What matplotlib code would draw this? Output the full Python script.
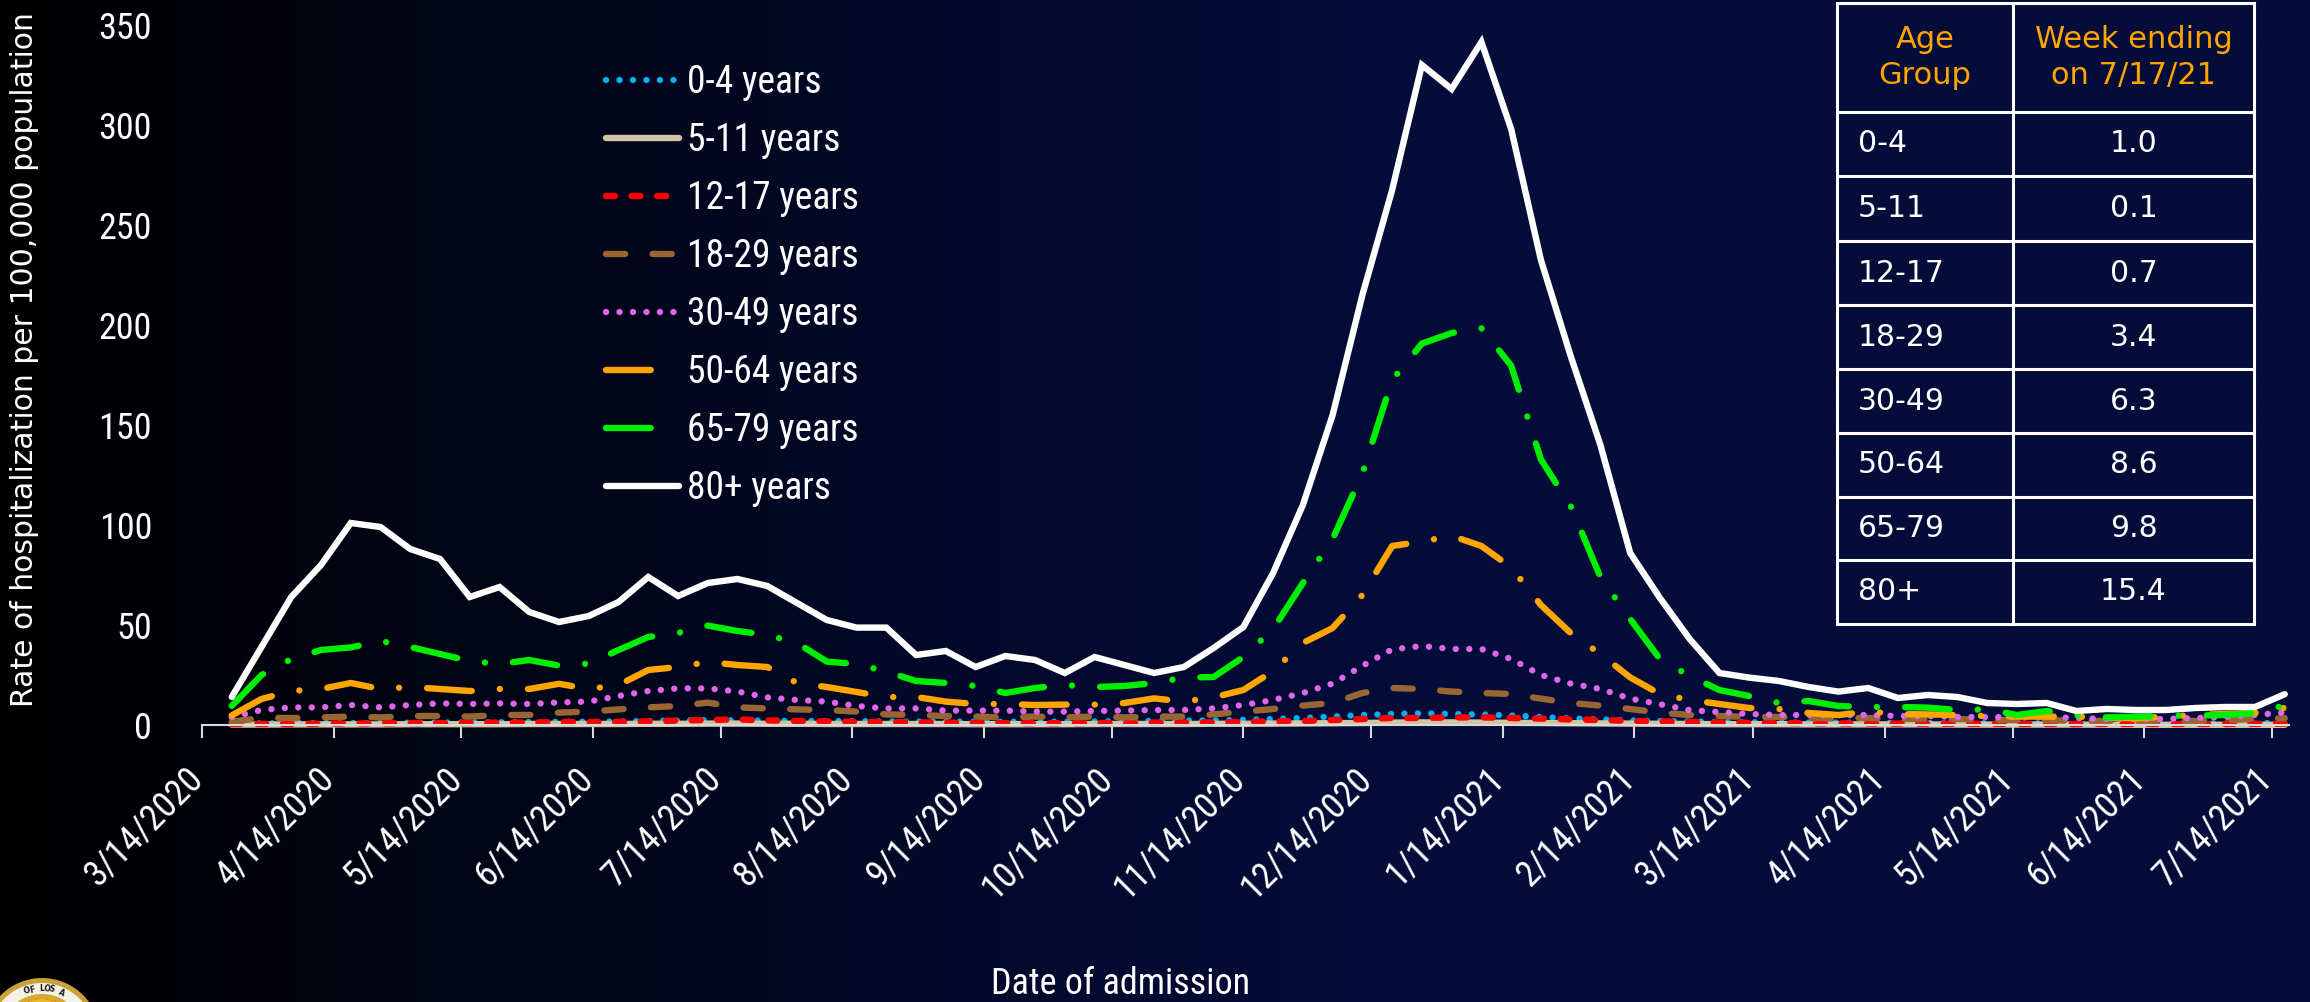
import numpy as np
import pandas as pd
import matplotlib
matplotlib.use("Agg")
import matplotlib.pyplot as plt
from matplotlib import font_manager as fm
import matplotlib.transforms as mtrans
from matplotlib.patches import Rectangle, Circle, Wedge
from matplotlib.lines import Line2D

# ---------------- data ----------------
week_ending = pd.date_range("2020-03-21", "2021-07-17", freq="7D")  # 70 weekly points

age_0_4 = [0.8, 0.8, 0.9, 1, 1, 1, 1.1, 1.2, 1.3, 1.4,
           1.5, 1.6, 1.6, 1.8, 2, 2.2, 2.5, 2.3, 2.2, 2,
           2, 1.9, 1.8, 1.7, 1.7, 1.6, 1.6, 1.6, 1.7, 1.8,
           1.9, 2, 2.2, 2.3, 2.6, 3, 3.5, 4.2, 5, 5.5,
           5.8, 5.5, 5.2, 4.8, 4, 3.3, 2.8, 2.3, 2, 1.8,
           1.5, 1.4, 1.3, 1.2, 1.2, 1.1, 1, 1, 0.9, 0.9,
           0.9, 0.8, 0.8, 0.8, 0.8, 0.8, 0.8, 0.8, 0.9, 1.0]
age_5_11 = [0.2, 0.2, 0.3, 0.3, 0.3, 0.3, 0.4, 0.4, 0.4, 0.4,
            0.5, 0.5, 0.5, 0.5, 0.6, 0.6, 0.7, 0.7, 0.6, 0.6,
            0.5, 0.5, 0.5, 0.5, 0.5, 0.4, 0.4, 0.4, 0.4, 0.5,
            0.5, 0.5, 0.5, 0.6, 0.6, 0.7, 0.8, 0.9, 1, 1.2,
            1.3, 1.3, 1.2, 1.1, 1, 0.9, 0.8, 0.7, 0.6, 0.5,
            0.4, 0.4, 0.4, 0.3, 0.3, 0.3, 0.3, 0.3, 0.2, 0.2,
            0.2, 0.2, 0.2, 0.1, 0.1, 0.1, 0.1, 0.1, 0.1, 0.1]
age_12_17 = [0.5, 0.5, 0.5, 0.7, 0.8, 0.8, 1, 1, 1, 1.2,
             1.3, 1.5, 1.5, 1.6, 1.8, 2.2, 2.5, 2.8, 2.3, 2,
             1.8, 1.6, 1.5, 1.3, 1.2, 1, 1, 0.9, 0.9, 1,
             1, 1.2, 1.2, 1.3, 1.5, 1.8, 2, 2.5, 3, 3.5,
             3.5, 3.8, 3.8, 3.5, 3.2, 2.8, 2.5, 2, 1.8, 1.5,
             1.2, 1.1, 1, 0.9, 0.8, 0.8, 0.7, 0.7, 0.6, 0.6,
             0.5, 0.5, 0.5, 0.5, 0.5, 0.5, 0.5, 0.5, 0.6, 0.7]
age_18_29 = [1.7, 3.5, 3.5, 3.8, 4.2, 3.8, 4.5, 4.5, 4.2, 5,
             5, 6.2, 6.7, 7.8, 8.8, 9.5, 11.2, 8.8, 8.3, 7.8,
             7.5, 6.7, 5.3, 5, 4.5, 4.2, 3.8, 4.2, 3.8, 4.2,
             3.8, 4.2, 4.2, 5.3, 6.7, 8, 9.7, 11, 16, 18.5,
             18, 16.7, 16, 15.5, 13.2, 11, 9.7, 8, 6.2, 5,
             4.5, 4, 4, 3.5, 3.5, 3.5, 3, 3, 3, 2.5,
             2.5, 2.5, 2, 2, 2, 2, 2, 2.5, 3, 3.4]
age_30_49 = [4, 7.5, 8.8, 8.8, 10, 8.8, 10, 10.8, 10.5, 10.8,
             10.5, 11.3, 11.7, 14.5, 17, 18.3, 18.3, 16.7, 13.8, 12.5,
             11.7, 9.5, 8.3, 8.3, 7.2, 7.2, 7.2, 6.7, 6.7, 7,
             7.2, 7.5, 7.5, 8.3, 10, 12.5, 16, 20.7, 29.6, 37.8,
             39.5, 38, 38, 33, 25, 20.7, 18, 13.2, 10.4, 7.4,
             6.5, 5.5, 5, 5, 5, 5, 4.5, 4.5, 4, 4,
             4, 4, 3.5, 3, 3, 3, 3.5, 4, 5, 6.3]
age_50_64 = [4.8, 13, 17, 18, 21, 18, 19, 18, 17, 18,
             18, 20.6, 18, 20, 27.5, 29, 31.5, 30, 29, 21,
             19, 16.5, 14, 14, 11.7, 10.5, 10.5, 10, 10.2, 10.2,
             11, 13.3, 11.7, 13.8, 17.5, 27, 41, 48.5, 65, 89.5,
             91.7, 94.6, 89.5, 78.8, 60, 46, 35.5, 23.8, 15.5, 12.5,
             10.5, 8.5, 8, 6, 5, 6.7, 5.5, 5.3, 5, 4.5,
             4.2, 4.2, 4.2, 3.7, 3.3, 4.2, 5, 5.5, 6, 8.6]
age_65_79 = [9.5, 25, 33, 37.5, 38.8, 42, 39, 35.5, 32, 30.5,
             32.5, 29.7, 30.7, 37.5, 44, 46, 49.7, 47, 45, 41,
             31.7, 30.5, 26.7, 22, 21, 19.5, 16, 18.5, 20, 19,
             19.5, 21, 23.7, 24, 34, 48, 71, 93, 125.7, 172.5,
             190.7, 196, 198.4, 179.7, 132.8, 109.5, 74, 53, 33, 24.5,
             17.5, 14.5, 11, 12, 9.5, 9, 9, 8.7, 7.5, 7.8,
             5, 7, 4.7, 3.8, 4.2, 4.5, 4.7, 5, 6, 9.8]
age_80_plus = [14, 39, 64, 80, 101, 99, 88, 83, 64, 69,
               56.5, 51.5, 54.5, 61.5, 74, 64.5, 71, 73, 69.5, 61,
               52.5, 48.7, 48.7, 35, 37, 29, 34.5, 32.5, 26, 34,
               30, 26, 29, 38.5, 49, 76, 110, 155, 215, 267.5,
               330, 318, 341.5, 298, 232.5, 184.5, 140, 86, 63.5, 43,
               26, 23.7, 22, 19, 16.7, 18.5, 13.5, 15, 14, 11,
               10.5, 11, 7, 8, 7.5, 7.5, 8.5, 9, 9, 15.4]

legend_labels = ["0-4 years", "5-11 years", "12-17 years", "18-29 years",
                 "30-49 years", "50-64 years", "65-79 years", "80+ years"]
x_tick_labels = ["3/14/2020", "4/14/2020", "5/14/2020", "6/14/2020", "7/14/2020",
                 "8/14/2020", "9/14/2020", "10/14/2020", "11/14/2020", "12/14/2020",
                 "1/14/2021", "2/14/2021", "3/14/2021", "4/14/2021", "5/14/2021",
                 "6/14/2021", "7/14/2021"]
y_ticks = [0, 50, 100, 150, 200, 250, 300, 350]

table_groups = ["0-4", "5-11", "12-17", "18-29", "30-49", "50-64", "65-79", "80+"]
table_values = ["1.0", "0.1", "0.7", "3.4", "6.3", "8.6", "9.8", "15.4"]
table_header = ["Age\nGroup", "Week ending\non 7/17/21"]

# ---------------- fonts ----------------
avail = {f.name for f in fm.fontManager.ttflist}
narrow = None
for cand in ["Liberation Sans Narrow", "Arial Narrow", "Roboto Condensed", "Open Sans Condensed"]:
    if cand in avail:
        narrow = cand
        break
if narrow is None:
    narrow = "Liberation Sans"
    NS = 23
else:
    NS = 26
wide = "DejaVu Sans"

W, H = 2310, 1002
fig = plt.figure(figsize=(W / 100, H / 100), dpi=100)

# background gradient
bgax = fig.add_axes([0, 0, 1, 1])
xs = np.linspace(0, 1, 800)
t = np.clip(xs / 0.6, 0, 1) ** 0.9
navy = np.array([4, 12, 58]) / 255.0
row = t[:, None] * navy[None, :]
bgax.imshow(np.tile(row[None, :, :], (2, 1, 1)), aspect="auto", extent=[0, 1, 0, 1])
bgax.set_xlim(0, 1); bgax.set_ylim(0, 1)
bgax.axis("off")
bgax.set_zorder(-10)

# main axes
L, R, T, B = 202, 2289, 25, 725
ax = fig.add_axes([L / W, 1 - B / H, (R - L) / W, (B - T) / H])
ax.patch.set_alpha(0)
for s in ["top", "right", "left"]:
    ax.spines[s].set_visible(False)
ax.spines["bottom"].set_color("#D9D9D9")
ax.spines["bottom"].set_linewidth(1.5)

dashdot = (0, (7.0, 4.4, 0.01, 4.4))
styles = [
    dict(color="#00B0F0", ls=(0, (0.01, 2.1))),
    dict(color="#CFC6A5", ls="-"),
    dict(color="#FF0000", ls=(0, (1.4, 2.6))),
    dict(color="#996633", ls=(0, (3.0, 4.3))),
    dict(color="#E066E8", ls=(0, (0.01, 2.1))),
    dict(color="#FFA500", ls=dashdot),
    dict(color="#00EE00", ls=dashdot),
    dict(color="#FFFFFF", ls="-"),
]
series = [age_0_4, age_5_11, age_12_17, age_18_29, age_30_49, age_50_64, age_65_79, age_80_plus]
LW = 4.6
handles = []
for vals, lab, st in zip(series, legend_labels, styles):
    ln, = ax.plot(week_ending, vals, color=st["color"], linestyle=st["ls"], lw=LW,
                  dash_capstyle="round", solid_capstyle="round", solid_joinstyle="miter",
                  clip_on=False, label=lab)
    if st["ls"] == dashdot:
        # legend shows a single dash for the dash-dot styles
        handles.append(Line2D([], [], color=st["color"], lw=LW, linestyle=(0, (7.0, 12)),
                              dash_capstyle="round"))
    else:
        handles.append(ln)

ax.set_ylim(0, 350)
ax.set_yticks(y_ticks)
ax.set_yticklabels([str(v) for v in y_ticks], fontfamily=narrow)
ax.tick_params(axis="y", length=0, pad=36, labelsize=NS, labelcolor="white")

ax.set_xlim(pd.Timestamp("2020-03-14"), pd.Timestamp("2021-07-18"))
ax.set_xticks(pd.to_datetime(x_tick_labels, format="%m/%d/%Y"))
ax.set_xticklabels(x_tick_labels, rotation=45, ha="right", fontfamily=narrow)
ax.tick_params(axis="x", length=9, width=1.5, color="#D9D9D9", pad=16.5,
               labelsize=NS, labelcolor="white")
off = mtrans.ScaledTranslation(8 / 100, 0, fig.dpi_scale_trans)
for lbl in ax.get_xticklabels():
    lbl.set_transform(lbl.get_transform() + off)

leg = ax.legend(handles, legend_labels, loc="upper left", bbox_to_anchor=(606 / W, 1 - 64 / H),
                bbox_transform=fig.transFigure, frameon=False,
                prop=fm.FontProperties(family=narrow, size=NS + 1), labelcolor="white",
                handlelength=1.95, handletextpad=0.2, labelspacing=0.56,
                borderpad=0, borderaxespad=0)

fig.text(25 / W, 1 - 360 / H, "Rate of hospitalization per 100,000 population",
         rotation=90, ha="center", va="center", color="white", fontsize=21.5, family=wide)
fig.text(1121 / W, 1 - 984 / H, "Date of admission", ha="center", va="center",
         color="white", fontsize=NS, family=narrow)

# ---------------- table ----------------
tx0, tx1, txm = 1837, 2254, 2013
ty = [3, 112, 176, 241, 305, 369, 433, 497, 560, 624]
fig.add_artist(Rectangle((tx0 / W, 1 - ty[-1] / H), (tx1 - tx0) / W, (ty[-1] - ty[0]) / H,
                         transform=fig.transFigure, facecolor="#040C3A",
                         edgecolor="white", lw=2.2, zorder=5))
for yy in ty[1:-1]:
    fig.add_artist(Line2D([tx0 / W, tx1 / W], [1 - yy / H, 1 - yy / H],
                          transform=fig.transFigure, color="white", lw=2.2, zorder=6))
fig.add_artist(Line2D([txm / W, txm / W], [1 - ty[0] / H, 1 - ty[-1] / H],
                      transform=fig.transFigure, color="white", lw=2.2, zorder=6))
hy = (ty[0] + ty[1]) / 2
fig.text(((tx0 + txm) / 2) / W, 1 - hy / H, table_header[0], ha="center", va="center",
         color="#FFA500", fontsize=22, family=wide, linespacing=1.3, zorder=7)
fig.text(((txm + tx1) / 2) / W, 1 - hy / H, table_header[1], ha="center", va="center",
         color="#FFA500", fontsize=22, family=wide, linespacing=1.3, zorder=7)
for k, (g, v) in enumerate(zip(table_groups, table_values)):
    cy = (ty[k + 1] + ty[k + 2]) / 2
    fig.text(1858 / W, 1 - cy / H, g, ha="left", va="center", color="white",
             fontsize=21.5, family=wide, zorder=7)
    fig.text(((txm + tx1) / 2) / W, 1 - cy / H, v, ha="center", va="center",
             color="white", fontsize=21.5, family=wide, zorder=7)

# ---------------- seal (partially visible, bottom-left) ----------------
idt = mtrans.IdentityTransform()
cx, cy0 = 42, H - 1036
for r, c in [(58, "#C9A13B"), (53, "#F4F1E6"), (42, "#D8A82E"), (37, "#2A5CA8")]:
    fig.add_artist(Circle((cx, cy0), r, transform=idt, facecolor=c, edgecolor="none", zorder=3))
fig.add_artist(Wedge((cx, cy0), 37, 60, 120, transform=idt, facecolor="#F0B429",
                     edgecolor="none", zorder=4))
fig.add_artist(Circle((cx, cy0), 22, transform=idt, facecolor="#D23A2A", edgecolor="none", zorder=4))
seal_text = "COUNTY OF LOS ANGELES"
angs = np.linspace(150, 30, len(seal_text))
for ch, a in zip(seal_text, angs):
    if not (61 <= a <= 119) or ch == " ":
        continue  # only the letters of the arc that lie inside the picture
    ra = np.deg2rad(a)
    fig.text((cx + 47.5 * np.cos(ra)) / W, (cy0 + 47.5 * np.sin(ra)) / H, ch,
             rotation=a - 90, ha="center", va="center", fontsize=5.5, color="#1a1a1a",
             family=wide, weight="bold", zorder=5)

fig.savefig("out.png", dpi=100, facecolor="black")
